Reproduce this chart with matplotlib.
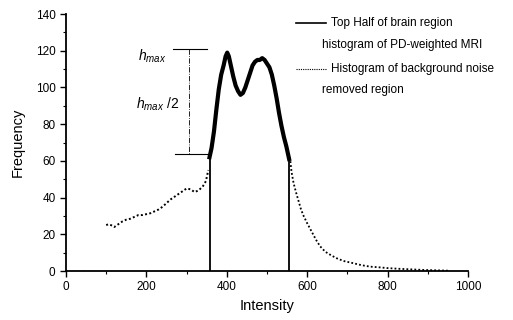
import numpy as np
import matplotlib
matplotlib.use('Agg')
from matplotlib import pyplot as plt

plt.rcParams['font.family'] = ['Liberation Sans', 'DejaVu Sans']
plt.rcParams['mathtext.fontset'] = 'custom'
plt.rcParams['mathtext.it'] = 'Liberation Sans:italic'
plt.rcParams['mathtext.rm'] = 'Liberation Sans'

# brain region histogram (solid)
brain_x = [357, 362, 368, 374, 380, 386, 392, 397, 401, 405, 410, 416, 422, 428, 434, 440, 446,
           452, 458, 464, 470, 476, 482, 488, 494, 500, 506, 512, 518, 524, 530, 536, 542, 548, 553, 555]
brain_y = [62, 67, 76, 88, 99, 107, 112, 117, 119, 117, 112, 106, 101, 98, 96, 97, 100,
           104, 108, 112, 114, 115, 115, 116, 115, 113, 111, 107, 101, 94, 86, 79, 73, 68, 63, 61]
edge_x = [357, 555]

# background-noise-removed histogram (dotted)
base_x = [0, 95]
base_y = [0, 0]
noise_x = [100, 105, 112, 120, 130, 140, 150, 160, 170, 180, 190, 200, 210, 220, 230, 240,
           250, 260, 270, 280, 290, 300, 310, 320, 330, 340, 348, 354]
noise_y = [25, 25.5, 25, 24, 25.5, 27, 28, 28.5, 29.5, 30.5, 30.5, 31, 31.5, 32.5, 33.5, 35,
           37, 39, 40.5, 42, 43.5, 45, 44.5, 43, 44, 46, 49, 55]
tail_x = [557, 561, 566, 572, 578, 584, 590, 600, 611, 622, 632, 645, 660, 673, 690, 714, 735, 756,
          780, 800, 830, 860, 890, 920, 950]
tail_y = [62, 54, 48, 43, 38.5, 34, 30.5, 26, 21.5, 17, 13.5, 10.5, 8.5, 7, 5.5, 4.3, 3.2, 2.4,
          2, 1.6, 1.2, 0.9, 0.6, 0.4, 0.2]

# h_max markers
hmax = 121
hhalf = 63.5

fig = plt.figure(figsize=(5.13, 3.2), dpi=100)
ax = fig.add_axes([0.1287, 0.153, 0.7836, 0.803])

dot = (0, (1, 1.2))
ax.plot(base_x, base_y, color='black', lw=1.0, ls=dot)
ax.plot(noise_x, noise_y, color='black', lw=1.4, ls=dot)
ax.plot(tail_x, tail_y, color='black', lw=1.3, ls=dot)
ax.plot(brain_x, brain_y, color='black', lw=3.0)
for i, ex in enumerate(edge_x):
    ax.plot([ex, ex], [0, brain_y[0] if i == 0 else brain_y[-1]], color='black', lw=1.3)

ax.plot([265, 351], [hmax, hmax], color='black', lw=0.8)
ax.plot([271, 353], [hhalf, hhalf], color='black', lw=0.8)
ax.plot([306, 306], [hmax, hhalf], color='black', lw=0.6, ls='-.')
ax.text(178, 117, r'$h_{max}$', fontsize=10, ha='left', va='center')
ax.text(175, 91, r'$h_{max}\ /2$', fontsize=10, ha='left', va='center')

ax.set_xlim(0, 1000)
ax.set_ylim(0, 140)
ax.set_xticks([0, 200, 400, 600, 800, 1000])
ax.set_xticks(np.arange(100, 1000, 200), minor=True)
ax.set_yticks(np.arange(0, 141, 20))
ax.set_yticks(np.arange(10, 140, 20), minor=True)
for s in ['top', 'right']:
    ax.spines[s].set_visible(False)
for s in ['left', 'bottom']:
    ax.spines[s].set_linewidth(1.3)
ax.tick_params(which='major', direction='out', length=4, width=1, labelsize=8.5)
ax.tick_params(which='minor', direction='out', length=2, width=0.8)
ax.set_xlabel('Intensity', fontsize=10.5, labelpad=4)
ax.set_ylabel('Frequency', fontsize=10.5, labelpad=8)

# legend drawn by hand to keep the two-line labels
tr = ax.transAxes
ax.plot([0.571, 0.646], [0.964, 0.964], transform=tr, color='black', lw=1.2, clip_on=False)
ax.text(0.658, 0.964, 'Top Half of brain region', transform=tr, fontsize=8.5, va='center')
ax.text(0.638, 0.879, 'histogram of PD-weighted MRI', transform=tr, fontsize=8.5, va='center')
ax.plot([0.571, 0.646], [0.787, 0.787], transform=tr, color='black', lw=0.8, ls=(0, (1, 1)), clip_on=False)
ax.text(0.658, 0.787, 'Histogram of background noise', transform=tr, fontsize=8.5, va='center')
ax.text(0.638, 0.704, 'removed region', transform=tr, fontsize=8.5, va='center')

fig.savefig('out.png', dpi=100)
